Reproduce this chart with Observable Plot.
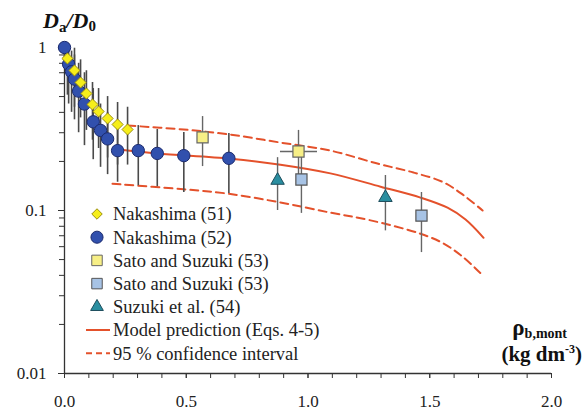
<!DOCTYPE html>
<html>
<head>
<meta charset="utf-8">
<script src="https://cdn.jsdelivr.net/npm/d3@7"></script>
<script src="https://cdn.jsdelivr.net/npm/@observablehq/plot@0.6"></script>
<style>
  html, body { margin: 0; padding: 0; background: #fff; }
  #chart { width: 585px; height: 412px; }
  #chart svg text { font-family: "Liberation Serif", "DejaVu Serif", serif; }
</style>
</head>
<body>
<div id="chart"></div>
<script>
// ---- Data ----
// Nakashima (51) – yellow diamonds
const nak51X  = [0.012, 0.041, 0.066, 0.090, 0.115, 0.140, 0.177, 0.218, 0.259];
const nak51Y  = [0.856, 0.723, 0.610, 0.522, 0.447, 0.405, 0.367, 0.337, 0.314];
const nak51Lo = [0.51, 0.43, 0.37, 0.31, 0.27, 0.24, 0.21, 0.19, 0.19];
const nak51Hi = [1.00, 0.99, 0.84, 0.72, 0.61, 0.56, 0.50, 0.46, 0.43];

// Nakashima (52) – blue circles
const nak52X  = [0.000, 0.017, 0.029, 0.041, 0.058, 0.082, 0.118, 0.148, 0.177, 0.218, 0.303, 0.381, 0.490, 0.675];
const nak52Y  = [1.00, 0.79, 0.71, 0.64, 0.54, 0.45, 0.35, 0.31, 0.275, 0.233, 0.233, 0.224, 0.217, 0.209];
const nak52Lo = [0.85, 0.45, 0.40, 0.36, 0.30, 0.25, 0.205, 0.184, 0.166, 0.149, 0.142, 0.140, 0.129, 0.127];
const nak52Hi = [1.00, 1.00, 0.95, 0.90, 0.80, 0.70, 0.56, 0.45, 0.40, 0.33, 0.332, 0.314, 0.301, 0.297];

// Sato and Suzuki (53) – light yellow squares
const sato1X  = [0.567, 0.961];
const sato1Y  = [0.281, 0.230];
const sato1Lo = [0.186, 0.160];
const sato1Hi = [0.377, 0.310];
const sato1XLo = [null, 0.887];
const sato1XHi = [null, 1.039];

// Sato and Suzuki (53) – light blue squares
const sato2X  = [0.973, 1.466];
const sato2Y  = [0.155, 0.093];
const sato2Lo = [0.096, 0.0552];
const sato2Hi = [0.220, 0.129];

// Suzuki et al. (54) – teal triangles
const suzX  = [0.875, 1.318];
const suzY  = [0.153, 0.120];
const suzLo = [0.100, 0.075];
const suzHi = [0.211, 0.164];

// Model prediction (Eqs. 4-5)
const modelX = [0.222, 0.382, 0.682, 0.887, 1.092, 1.298, 1.462, 1.573, 1.647, 1.721];
const modelY = [0.237, 0.224, 0.208, 0.191, 0.169, 0.140, 0.120, 0.104, 0.088, 0.068];

// 95 % confidence interval
const upperX = [0.259, 0.489, 0.682, 0.887, 1.092, 1.285, 1.433, 1.556, 1.639, 1.717];
const upperY = [0.332, 0.314, 0.292, 0.261, 0.233, 0.194, 0.171, 0.149, 0.124, 0.100];
const lowerX = [0.197, 0.489, 0.669, 0.887, 1.092, 1.257, 1.462, 1.556, 1.639, 1.717];
const lowerY = [0.146, 0.135, 0.127, 0.112, 0.097, 0.087, 0.072, 0.0628, 0.0515, 0.040];

// Axis ticks
const xMinorTicks = d3.range(0, 21).map(i => i / 10);
const xMajorTicks = [0, 0.5, 1.0, 1.5, 2.0];
const yMajorTicks = [0.01, 0.1, 1];
const yMinorTicks = [0.02,0.03,0.04,0.05,0.06,0.07,0.08,0.09,0.2,0.3,0.4,0.5,0.6,0.7,0.8,0.9];

const legendLabels = ["Nakashima (51)", "Nakashima (52)", "Sato and Suzuki (53)", "Sato and Suzuki (53)",
  "Suzuki et al. (54)", "Model prediction (Eqs. 4-5)", "95 % confidence interval"];

// ---- build tables ----
const zip = (xs, ys, los, his) => xs.map((x, i) => ({x, y: ys[i], lo: los ? los[i] : null, hi: his ? his[i] : null}));
const d51 = zip(nak51X, nak51Y, nak51Lo, nak51Hi);
const d52 = zip(nak52X, nak52Y, nak52Lo, nak52Hi);
const ds1 = sato1X.map((x, i) => ({x, y: sato1Y[i], lo: sato1Lo[i], hi: sato1Hi[i], xlo: sato1XLo[i], xhi: sato1XHi[i]}));
const ds2 = zip(sato2X, sato2Y, sato2Lo, sato2Hi);
const dsz = zip(suzX, suzY, suzLo, suzHi);
const model = zip(modelX, modelY);
const upper = zip(upperX, upperY);
const lower = zip(lowerX, lowerY);

const C = {
  line: "#e4512b",
  bar: "#4a4a4a",
  diaFill: "#f6ee1a", diaStroke: "#9c8f10",
  cirFill: "#3150ad", cirStroke: "#1c2b6e",
  sq1Fill: "#f7ef86", sq1Stroke: "#666",
  sq2Fill: "#a7c3e5", sq2Stroke: "#555",
  triFill: "#2a8ea0", triStroke: "#1d4d5c"
};
const serif = "Liberation Serif, DejaVu Serif, serif";
const blank = () => "";

const plot = Plot.plot({
  width: 585,
  height: 412,
  marginLeft: 64,
  marginRight: 34,
  marginTop: 47,
  marginBottom: 39,
  style: {fontFamily: serif, fontSize: "17px", color: "#222", background: "#fff"},
  x: {domain: [0, 2]},
  y: {type: "log", domain: [0.01, 1]},
  marks: [
    // axes
    Plot.axisX({ticks: xMinorTicks, tickSize: 5, tickFormat: blank, label: null, stroke: "#333"}),
    Plot.axisX({ticks: xMajorTicks, tickSize: 5, tickPadding: 16, tickFormat: d3.format(".1f"), label: null, stroke: "#333", fontSize: 17, fontFamily: serif}),
    Plot.axisY({ticks: yMinorTicks, tickSize: 5, tickFormat: blank, label: null, stroke: "#333"}),
    Plot.axisY({ticks: yMajorTicks, tickSize: 6, tickPadding: 12, tickFormat: d => String(d), label: null, stroke: "#333", fontSize: 17, fontFamily: serif}),
    Plot.ruleY([0.01], {stroke: "#333", strokeWidth: 1.3}),
    Plot.ruleX([0], {stroke: "#333", strokeWidth: 1.3}),
    // model & confidence interval
    Plot.line(upper, {x: "x", y: "y", stroke: C.line, strokeWidth: 2, strokeDasharray: "8,5", curve: "catmull-rom"}),
    Plot.line(lower, {x: "x", y: "y", stroke: C.line, strokeWidth: 2, strokeDasharray: "8,5", curve: "catmull-rom"}),
    Plot.line(model, {x: "x", y: "y", stroke: C.line, strokeWidth: 2, curve: "catmull-rom"}),
    // error bars
    Plot.ruleX(d51, {x: "x", y1: "lo", y2: "hi", stroke: C.bar, strokeWidth: 1.6}),
    Plot.ruleX(d52, {x: "x", y1: "lo", y2: "hi", stroke: C.bar, strokeWidth: 1.6}),
    Plot.ruleX(ds1, {x: "x", y1: "lo", y2: "hi", stroke: "#666", strokeWidth: 1.4}),
    Plot.ruleY(ds1.filter(d => d.xlo != null), {y: "y", x1: "xlo", x2: "xhi", stroke: "#666", strokeWidth: 1.4}),
    Plot.ruleX(ds2, {x: "x", y1: "lo", y2: "hi", stroke: "#666", strokeWidth: 1.4}),
    Plot.ruleX(dsz, {x: "x", y1: "lo", y2: "hi", stroke: "#666", strokeWidth: 1.4}),
    // markers
    Plot.dot(d52, {x: "x", y: "y", r: 6.2, symbol: "circle", fill: C.cirFill, stroke: C.cirStroke, strokeWidth: 1}),
    Plot.dot(d51, {x: "x", y: "y", r: 5, symbol: "diamond2", fill: C.diaFill, stroke: C.diaStroke, strokeWidth: 1}),
    Plot.dot(ds1, {x: "x", y: "y", r: 6.3, symbol: "square", fill: C.sq1Fill, stroke: C.sq1Stroke, strokeWidth: 1.2}),
    Plot.dot(ds2, {x: "x", y: "y", r: 6.3, symbol: "square", fill: C.sq2Fill, stroke: C.sq2Stroke, strokeWidth: 1.2}),
    Plot.dot(dsz, {x: "x", y: "y", r: 5, symbol: "triangle", fill: C.triFill, stroke: C.triStroke, strokeWidth: 1})
  ]
});

document.getElementById("chart").appendChild(plot);

// ---- titles and legend (SVG text) ----
const svg = d3.select(plot);

// Y title: Da/D0
const yt = svg.append("text").attr("x", 43).attr("y", 28).attr("text-anchor", "start")
  .attr("font-family", serif).attr("font-weight", "bold").attr("font-size", 22).attr("fill", "#111");
yt.append("tspan").attr("font-style", "italic").text("D");
yt.append("tspan").attr("font-size", 15).attr("dy", 4).text("a");
yt.append("tspan").attr("font-style", "italic").attr("dy", -4).text("/D");
yt.append("tspan").attr("font-size", 15).attr("dy", 3).text("0");

// X title
const xt1 = svg.append("text").attr("x", 567).attr("y", 335).attr("text-anchor", "end")
  .attr("font-family", serif).attr("font-weight", "bold").attr("font-size", 23).attr("fill", "#111");
xt1.append("tspan").text("ρ");
xt1.append("tspan").attr("font-size", 14).attr("dy", 3).text("b,mont");
const xt2 = svg.append("text").attr("x", 582).attr("y", 361).attr("text-anchor", "end")
  .attr("font-family", serif).attr("font-weight", "bold").attr("font-size", 21).attr("fill", "#111");
xt2.append("tspan").text("(kg dm");
xt2.append("tspan").attr("font-size", 12).attr("dy", -8).text("-3");
xt2.append("tspan").attr("dy", 8).text(")");

// Legend
const lg = svg.append("g").attr("text-anchor", "start");
const rowY = i => 214 + i * 23.2;
const mkX = 97, txX = 113;
const sym = (type, size) => d3.symbol(type, size)();
const markers = [
  {d: sym(d3.symbolDiamond2, 70), fill: C.diaFill, stroke: C.diaStroke},
  {d: sym(d3.symbolCircle, 115), fill: C.cirFill, stroke: C.cirStroke},
  {d: sym(d3.symbolSquare, 110), fill: C.sq1Fill, stroke: C.sq1Stroke},
  {d: sym(d3.symbolSquare, 110), fill: C.sq2Fill, stroke: C.sq2Stroke},
  {d: sym(d3.symbolTriangle, 70), fill: C.triFill, stroke: C.triStroke}
];
legendLabels.forEach((lab, i) => {
  const y = rowY(i);
  if (i < 5) {
    lg.append("path").attr("d", markers[i].d).attr("transform", `translate(${mkX},${y})`)
      .attr("fill", markers[i].fill).attr("stroke", markers[i].stroke).attr("stroke-width", 1);
  } else {
    lg.append("line").attr("x1", 86).attr("x2", 110).attr("y1", y).attr("y2", y)
      .attr("stroke", C.line).attr("stroke-width", 2)
      .attr("stroke-dasharray", i === 6 ? "6,4" : null);
  }
  lg.append("text").attr("x", txX).attr("y", y).attr("dy", "0.35em").attr("text-anchor", "start")
    .attr("font-family", serif).attr("font-size", 18.5).attr("fill", "#222").text(lab);
});
</script>
</body>
</html>
